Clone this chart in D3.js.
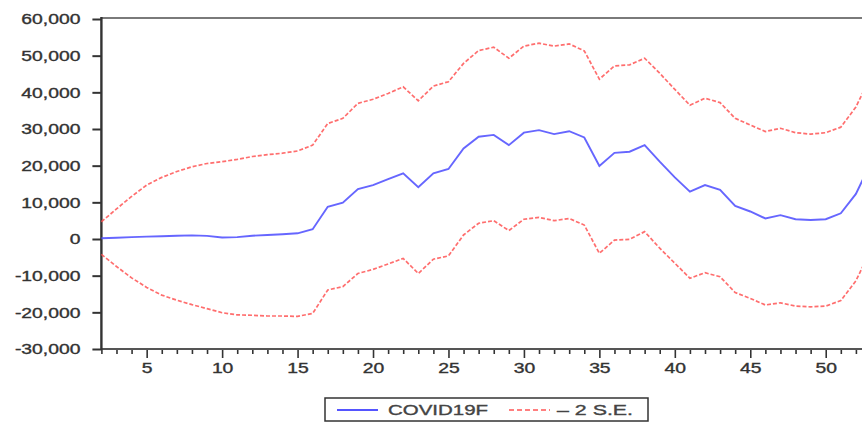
<!DOCTYPE html>
<html>
<head>
<meta charset="utf-8">
<script src="https://cdn.jsdelivr.net/npm/d3@7"></script>
<style>
  html, body { margin: 0; padding: 0; background: #fff; }
  svg { display: block; font-family: "Liberation Sans", Arial, sans-serif; }
  text { stroke: #333; stroke-width: 0.35px; }
</style>
</head>
<body>
<svg id="chart" width="862" height="423"></svg>
<script>
// Forecast horizon (observation index)
const periods = d3.range(2, 54);

// Point forecast
const forecast = [
  200, 350, 500, 650, 750, 900, 1000, 850, 400, 500,
  900, 1100, 1300, 1550, 2650, 8800, 9900, 13600, 14700, 16300,
  17900, 14100, 17900, 19100, 24700, 27900, 28400, 25600, 29000, 29700,
  28600, 29400, 27700, 19900, 23500, 23800, 25600, 21100, 16800, 12900,
  14700, 13400, 9000, 7500, 5600, 6500, 5400, 5200, 5400, 7000,
  12300, 20800
];

// Upper band (+2 S.E.)
const upperBand = [
  4700, 8200, 11600, 14700, 16800, 18400, 19700, 20600, 21100, 21700,
  22500, 23000, 23400, 24000, 25600, 31500, 32900, 37000, 38100, 39700,
  41500, 37700, 41700, 42900, 47900, 51400, 52300, 49300, 52600, 53400,
  52600, 53200, 51300, 43600, 47200, 47500, 49300, 45200, 40800, 36500,
  38400, 37200, 32900, 31100, 29300, 30200, 29000, 28600, 29000, 30500,
  36000, 44500
];

// Lower band (-2 S.E.)
const lowerBand = [
  -4200, -7500, -10600, -13200, -15300, -16700, -17900, -19000, -20100, -20700,
  -20800, -21000, -21000, -21100, -20300, -13900, -13000, -9400, -8300, -6800,
  -5300, -9400, -5500, -4600, 1100, 4300, 5000, 2300, 5400, 5900,
  5000, 5600, 3800, -3900, -300, -100, 2000, -2500, -6600, -10700,
  -9200, -10300, -14600, -16200, -18000, -17400, -18300, -18500, -18300, -16800,
  -11400, -2900
];

const yTicks = [60000, 50000, 40000, 30000, 20000, 10000, 0, -10000, -20000, -30000];
const yTickLabels = ["60,000", "50,000", "40,000", "30,000", "20,000", "10,000", "0", "-10,000", "-20,000", "-30,000"];
const xLabelTicks = [5, 10, 15, 20, 25, 30, 35, 40, 45, 50];

const legendNames = ["COVID19F", "\u2013 2  S.E."];

const svg = d3.select("#chart");
const plotLeft = 101.4, plotTop = 19, plotBottom = 349;
const stretch = 1.38;

const x = d3.scaleLinear().domain([2, 53]).range([plotLeft, plotLeft + 51 * 15.09]);
const y = d3.scaleLinear().domain([-30000, 60000]).range([plotBottom, plotTop]);

// Y axis with outward ticks
const yAxis = svg.append("g")
  .attr("transform", `translate(${plotLeft},0)`)
  .call(d3.axisLeft(y).tickValues(yTicks).tickSize(9).tickSizeOuter(0)
    .tickFormat((d, i) => yTickLabels[i]));
yAxis.select(".domain").remove();
yAxis.selectAll(".tick line").attr("stroke", "#333").attr("stroke-width", 2);
yAxis.selectAll(".tick text")
  .attr("x", -21 / stretch)
  .attr("dy", "0.35em")
  .attr("transform", `scale(${stretch},1)`)
  .style("font-size", "14px")
  .attr("fill", "#333");

// X axis: a tick at every period, longer and labelled every fifth
const xAxis = svg.append("g")
  .attr("transform", `translate(0,${plotBottom})`)
  .call(d3.axisBottom(x).tickValues(periods).tickSize(5).tickSizeOuter(0)
    .tickFormat(d => xLabelTicks.includes(d) ? d : ""));
xAxis.select(".domain").remove();
xAxis.selectAll(".tick line")
  .attr("stroke", "#333").attr("stroke-width", 1.6)
  .attr("y2", d => xLabelTicks.includes(d) ? 9 : 5);
xAxis.selectAll(".tick text")
  .attr("y", 0).attr("dy", 0)
  .attr("transform", `translate(0,24) scale(${stretch},1)`)
  .style("font-size", "14px")
  .attr("fill", "#333");

// Frame
svg.append("line").attr("x1", plotLeft).attr("x2", x(53)).attr("y1", plotTop - 1).attr("y2", plotTop - 1)
  .attr("stroke", "#7a7a7a").attr("stroke-width", 2.2);
svg.append("line").attr("x1", plotLeft).attr("x2", x(53)).attr("y1", plotBottom).attr("y2", plotBottom)
  .attr("stroke", "#555").attr("stroke-width", 2);
svg.append("line").attr("x1", plotLeft).attr("x2", plotLeft).attr("y1", plotTop - 2).attr("y2", plotBottom + 1)
  .attr("stroke", "#333").attr("stroke-width", 2.4);

// Series
const line = d3.line().x((d, i) => x(periods[i])).y(d => y(d));
const red = "#ff5555", blue = "#5555ff";

svg.append("path").datum(upperBand).attr("d", line)
  .attr("fill", "none").attr("stroke", red).attr("stroke-width", 1.7)
  .attr("stroke-dasharray", "4,2").attr("stroke-opacity", 0.85);
svg.append("path").datum(lowerBand).attr("d", line)
  .attr("fill", "none").attr("stroke", red).attr("stroke-width", 1.7)
  .attr("stroke-dasharray", "4,2").attr("stroke-opacity", 0.85);
svg.append("path").datum(forecast).attr("d", line)
  .attr("fill", "none").attr("stroke", blue).attr("stroke-width", 1.9)
  .attr("stroke-opacity", 0.9);

// Legend
const lg = svg.append("g");
lg.append("rect").attr("x", 325).attr("y", 398).attr("width", 323).attr("height", 23)
  .attr("fill", "#fff").attr("stroke", "#333").attr("stroke-width", 1.5);
lg.append("line").attr("x1", 337).attr("x2", 378).attr("y1", 410).attr("y2", 410)
  .attr("stroke", blue).attr("stroke-width", 1.8);
lg.append("text").attr("x", 388).attr("y", 415).text(legendNames[0])
  .attr("textLength", 100).attr("lengthAdjust", "spacingAndGlyphs")
  .style("font-size", "14px").attr("fill", "#444").style("stroke", "#444");
lg.append("line").attr("x1", 509).attr("x2", 550).attr("y1", 410).attr("y2", 410)
  .attr("stroke", red).attr("stroke-width", 1.7).attr("stroke-dasharray", "5,3");
lg.append("text").attr("x", 557).attr("y", 415).text(legendNames[1])
  .attr("textLength", 76).attr("lengthAdjust", "spacingAndGlyphs")
  .style("font-size", "14px").attr("fill", "#444").style("stroke", "#444");
</script>
</body>
</html>
